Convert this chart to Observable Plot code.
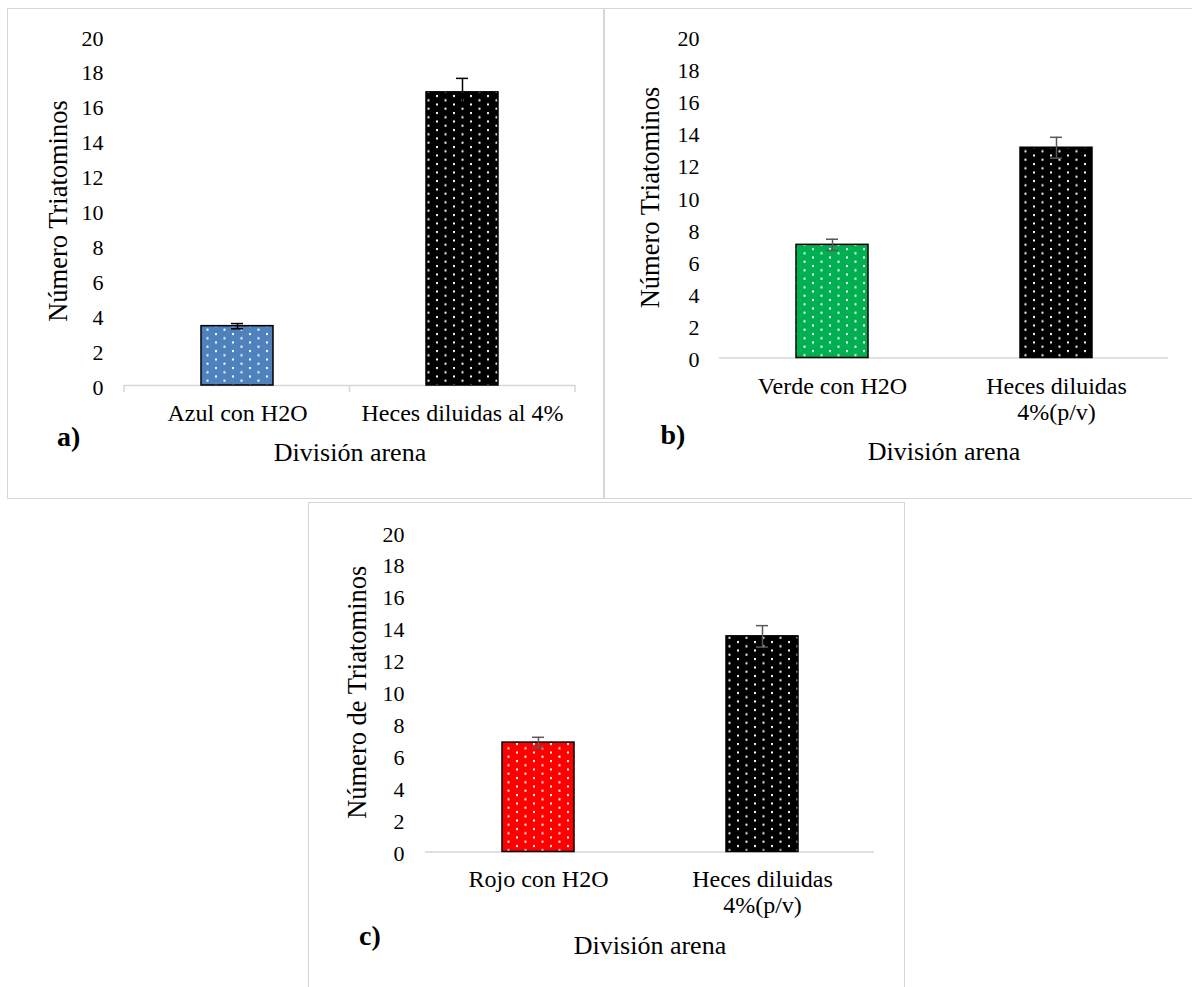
<!DOCTYPE html>
<html>
<head>
<meta charset="utf-8">
<script src="https://cdn.jsdelivr.net/npm/d3@7"></script>
<script src="https://cdn.jsdelivr.net/npm/@observablehq/plot@0.6"></script>
<style>
  html, body { margin: 0; padding: 0; background: #fff; }
  #root { position: relative; width: 1192px; height: 987px; overflow: hidden; background: #fff; }
  .box { position: absolute; border: 1.5px solid #d6d6d6; box-sizing: border-box; }
  .panel { position: absolute; }
  #root svg, #root svg text { font-family: "Liberation Serif", "Times New Roman", serif !important; }
</style>
</head>
<body>
<div id="root">
  <div class="box" style="left:7px;top:8px;width:598px;height:491px;"></div>
  <div class="box" style="left:603px;top:8px;width:600px;height:491px;"></div>
  <div class="box" style="left:308px;top:502px;width:597px;height:500px;"></div>
  <div class="panel" id="pa" style="left:8px;top:9px;"></div>
  <div class="panel" id="pb" style="left:605px;top:9px;"></div>
  <div class="panel" id="pc" style="left:309px;top:504px;"></div>
</div>
<script>
// ---------- data ----------
const yTicks = [0, 2, 4, 6, 8, 10, 12, 14, 16, 18, 20];
const xAxisTitle = "División arena";

const categoriesA = ["Azul con H2O", "Heces diluidas al 4%"];
const valuesA = [3.4, 16.8];
const errorsA = [0.15, 0.8];
const titleA = "Número Triatominos";
const letterA = "a)";

const categoriesB = ["Verde con H2O", "Heces diluidas\n4%(p/v)"];
const valuesB = [7.05, 13.1];
const errorsB = [0.35, 0.65];
const titleB = "Número Triatominos";
const letterB = "b)";

const categoriesC = ["Rojo con H2O", "Heces diluidas\n4%(p/v)"];
const valuesC = [6.85, 13.5];
const errorsC = [0.33, 0.67];
const titleC = "Número de Triatominos";
const letterC = "c)";

// ---------- styles ----------
const fontFamily = "Liberation Serif";

function panel(cfg) {
  const rows = cfg.cats.map((c, i) => ({cat: c, value: cfg.vals[i], err: cfg.errs[i]}));
  const patternIds = cfg.fills.map((_, i) => `dots-${cfg.id}-${i}`);
  const defsMark = () => {
    const g = d3.create("svg:g");
    const defs = g.append("defs");
    cfg.fills.forEach((c, i) => {
      const p = defs.append("pattern")
        .attr("id", patternIds[i])
        .attr("patternUnits", "userSpaceOnUse")
        .attr("width", 17).attr("height", 8.5);
      p.append("rect").attr("width", 17).attr("height", 8.5).attr("fill", c);
      p.append("rect").attr("x", 3).attr("y", 1).attr("width", 2).attr("height", 2).attr("fill", "#fff");
      p.append("rect").attr("x", 11.5).attr("y", 5.25).attr("width", 2).attr("height", 2).attr("fill", "#fff");
    });
    return g.node();
  };
  const tickMark = (index, scales, values, dim) => {
    const g = d3.create("svg:g").attr("stroke", "#d6d6d6").attr("stroke-width", 1.5);
    const x0 = dim.marginLeft, x1 = dim.width - dim.marginRight, y0 = dim.height - dim.marginBottom;
    [x0, (x0 + x1) / 2, x1].forEach(x => g.append("line").attr("x1", x).attr("x2", x).attr("y1", y0).attr("y2", y0 + 7));
    return g.node();
  };
  const marks = [
    defsMark,
    Plot.ruleY([0], {stroke: "#d6d6d6", strokeWidth: 1.5}),
  ];
  if (cfg.axisTicks) marks.push(tickMark);
  marks.push(
    Plot.barY(rows, {x: "cat", y: "value", fill: "cat", stroke: "#000", strokeWidth: 1.5}),
    Plot.ruleX(rows, {x: "cat", y1: d => d.value - d.err, y2: d => d.value + d.err, stroke: cfg.errColor, strokeWidth: 1.5}),
    Plot.tickY(rows, {x: "cat", y: d => d.value + d.err, inset: 30, stroke: cfg.errColor, strokeWidth: 1.5}),
    Plot.tickY(rows, {x: "cat", y: d => d.value - d.err, inset: 30, stroke: cfg.errColor, strokeWidth: 1.5}),
    Plot.axisY({ticks: yTicks, tickSize: 0, tickPadding: cfg.tickPad, fontSize: 22, label: null, dy: 2, fill: "#000"}),
    Plot.axisX({tickSize: 0, tickPadding: cfg.catPad, fontSize: 24, label: null, lineHeight: 1.08, fill: "#000"}),
    Plot.text([cfg.title], {frameAnchor: "left", textAnchor: "middle", lineAnchor: "middle", rotate: -90, dx: cfg.titleDx, fontSize: 26.5, fill: "#000"}),
    Plot.text([xAxisTitle], {frameAnchor: "bottom", textAnchor: "middle", lineAnchor: "middle", dy: cfg.xlabDy, fontSize: 26, fill: "#000"}),
    Plot.text([cfg.letter], {frameAnchor: "bottom-left", textAnchor: "start", lineAnchor: "middle", dx: cfg.letterDx, dy: cfg.letterDy, fontSize: 28, fontWeight: "bold", fill: "#000"})
  );
  const chart = Plot.plot({
    width: cfg.width,
    height: cfg.height,
    marginLeft: cfg.m[0], marginRight: cfg.m[1], marginTop: cfg.m[2], marginBottom: cfg.m[3],
    style: {fontFamily, background: "transparent", overflow: "visible"},
    x: {domain: cfg.cats, paddingInner: 0.68, paddingOuter: 0.34},
    y: {domain: [0, 20]},
    color: {type: "ordinal", domain: cfg.cats, range: patternIds.map(id => `url(#${id})`)},
    marks
  });
  document.getElementById(cfg.id).appendChild(chart);
}

panel({id: "pa", cats: categoriesA, vals: valuesA, errs: errorsA, title: titleA, letter: letterA,
  fills: ["#4f81bd", "#000000"], errColor: "#000",
  width: 595, height: 488, m: [116, 28, 27, 112], axisTicks: true,
  tickPad: 21, catPad: 17, titleDx: -66, xlabDy: 67.5, letterDx: -67.5, letterDy: 52});

panel({id: "pb", cats: categoriesB, vals: valuesB, errs: errorsB, title: titleB, letter: letterB,
  fills: ["#00b050", "#000000"], errColor: "#595959",
  width: 587, height: 488, m: [114, 24, 27.5, 139.5], axisTicks: false,
  tickPad: 20, catPad: 17.5, titleDx: -69, xlabDy: 94, letterDx: -59, letterDy: 77.5});

panel({id: "pc", cats: categoriesC, vals: valuesC, errs: errorsC, title: titleC, letter: letterC,
  fills: ["#ff0000", "#000000"], errColor: "#595959",
  width: 594, height: 483, m: [116, 29, 28, 135.5], axisTicks: false,
  tickPad: 21, catPad: 17, titleDx: -68, xlabDy: 93.5, letterDx: -66.5, letterDy: 84});
</script>
</body>
</html>
